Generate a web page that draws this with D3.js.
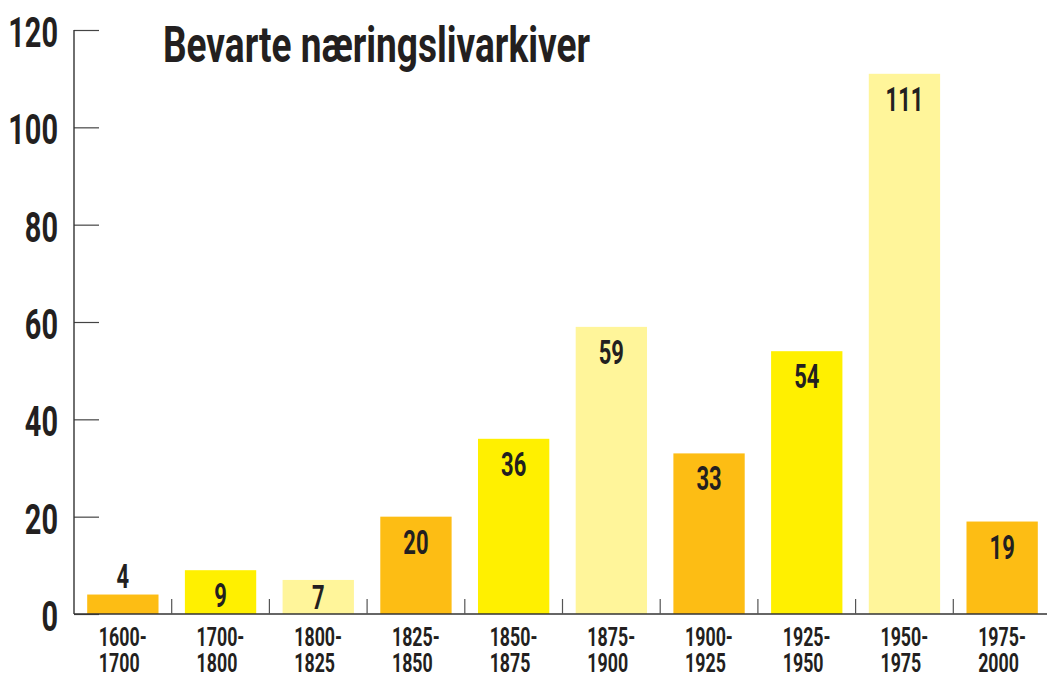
<!DOCTYPE html>
<html><head><meta charset="utf-8">
<script src="https://cdn.jsdelivr.net/npm/d3@7"></script>
<style>
html,body{margin:0;padding:0;background:#fff;}
svg{display:block;}
text{font-family:Roboto,"DejaVu Sans Condensed",sans-serif;font-weight:700;fill:#231f20;}
</style></head>
<body>
<svg id="c" width="1047" height="674"></svg>
<script>
const title = "Bevarte næringslivarkiver";
const categories = ["1600-1700","1700-1800","1800-1825","1825-1850","1850-1875","1875-1900","1900-1925","1925-1950","1950-1975","1975-2000"];
const values = [4, 9, 7, 20, 36, 59, 33, 54, 111, 19];
const barColors = ["#fdbd14","#fff000","#fff59a","#fdbd14","#fff000","#fff59a","#fdbd14","#fff000","#fff59a","#fdbd14"];
const yTicks = [0, 20, 40, 60, 80, 100, 120];

(function(){
const svg = d3.select("#c");
const W = 1047;
const mLeft = 74, mBottom = 614, mTop = 30, mRight = 1051;

// measure digit advance to derive a horizontal condensing factor
function condenseFactor(fontSize, targetAdvance){
  const t = svg.append("text").style("font-size", fontSize + "px").text("0123456789");
  const adv = t.node().getComputedTextLength() / 10;
  t.remove();
  return targetAdvance / adv;
}

const x = d3.scaleBand().domain(categories).range([mLeft, mRight]).paddingInner(0.27).paddingOuter(0.135);
const y = d3.scaleLinear().domain([0, 120]).range([mBottom, mTop]);
const step = x.step();

// bars
svg.append("g").selectAll("rect").data(values).join("rect")
  .attr("x", (d,i) => x(categories[i]))
  .attr("y", d => y(d))
  .attr("width", x.bandwidth())
  .attr("height", d => y(0) - y(d))
  .attr("fill", (d,i) => barColors[i]);

// y axis
const yFont = 43;
const sx = condenseFactor(yFont, 16.6);
const yAxis = d3.axisLeft(y).tickValues(yTicks).tickSize(-25).tickPadding(16/sx).tickFormat(d3.format("d"));
const gy = svg.append("g").attr("transform", `translate(${mLeft},0)`).call(yAxis);
gy.select(".domain").remove();
gy.selectAll(".tick line").attr("stroke", "#444").attr("stroke-width", 1.2);
gy.selectAll(".tick text")
  .attr("transform", `scale(${sx},1)`)
  .attr("dy", "0.38em")
  .style("font-size", yFont + "px")
  .style("font-family", 'Roboto,"DejaVu Sans Condensed",sans-serif')
  .style("font-weight", "700")
  .attr("fill", "#231f20");

// axis lines
svg.append("line").attr("x1", mLeft).attr("x2", mLeft).attr("y1", mTop).attr("y2", mBottom)
  .attr("stroke", "#333").attr("stroke-width", 1.4);
svg.append("line").attr("x1", mLeft).attr("x2", W).attr("y1", mBottom).attr("y2", mBottom)
  .attr("stroke", "#333").attr("stroke-width", 1.4);

// x ticks between bands
svg.append("g").selectAll("line").data(categories.slice(1)).join("line")
  .attr("x1", d => x(d) - (step - x.bandwidth())/2)
  .attr("x2", d => x(d) - (step - x.bandwidth())/2)
  .attr("y1", mBottom - 15).attr("y2", mBottom)
  .attr("stroke", "#555").attr("stroke-width", 1.2);

// category labels
const cFont = 26;
const cs = condenseFactor(cFont, 10.2);
const cl = svg.append("g").selectAll("g").data(categories).join("g")
  .attr("transform", d => `translate(${x(d) + x.bandwidth()/2 - 24},646) scale(${cs},1)`);
cl.append("text").style("font-size", cFont + "px").attr("text-anchor", "start")
  .each(function(d){
    const parts = d.split("-");
    d3.select(this).append("tspan").attr("x", 0).attr("y", 0).text(parts[0] + "-");
    d3.select(this).append("tspan").attr("x", 0).attr("y", 26).text(parts[1]);
  });

// value labels
const vFont = 34;
const vs = condenseFactor(vFont, 12.6);
svg.append("g").selectAll("text").data(values).join("text")
  .attr("text-anchor", "middle")
  .style("font-size", vFont + "px")
  .attr("transform", (d,i) => {
    const cx = x(categories[i]) + x.bandwidth()/2;
    const t = y(d);
    const by = d < 5 ? t - 7 : Math.min(t + 37, y(0) - 5);
    return `translate(${cx},${by}) scale(${vs},1)`;
  })
  .text(d => d);

// title
svg.append("text").attr("x", 163).attr("y", 62)
  .style("font-size", "50px")
  .attr("textLength", 427).attr("lengthAdjust", "spacingAndGlyphs")
  .text(title);
})();
</script>
</body></html>
